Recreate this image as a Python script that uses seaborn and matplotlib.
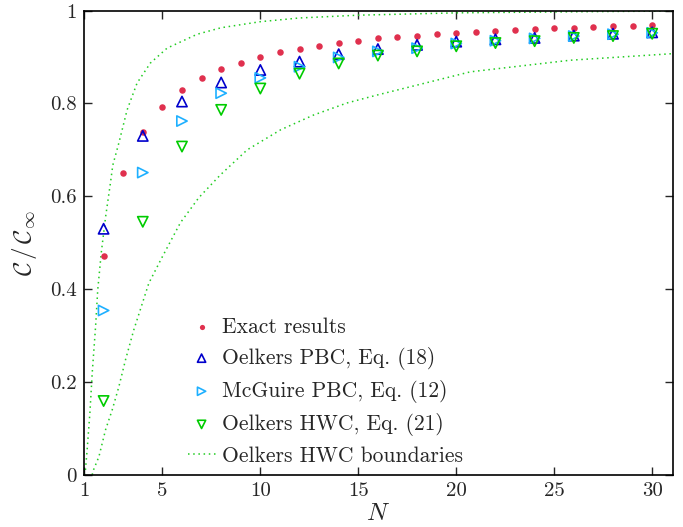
import numpy as np
import pandas as pd
import matplotlib
matplotlib.use("Agg")
import matplotlib.pyplot as plt
import seaborn as sns

# ---- data ----
N_exact = list(range(2, 31))
C_exact = [0.471, 0.650, 0.739, 0.793, 0.829, 0.855, 0.874, 0.888, 0.900, 0.910,
           0.918, 0.924, 0.930, 0.935, 0.940, 0.943, 0.946, 0.949, 0.952, 0.954,
           0.956, 0.959, 0.961, 0.962, 0.963, 0.965, 0.966, 0.967, 0.968]

N_even = list(range(2, 31, 2))
C_oelkers_pbc = [0.530, 0.730, 0.804, 0.845, 0.872, 0.890, 0.906, 0.917, 0.926,
                 0.933, 0.938, 0.941, 0.946, 0.950, 0.953]
C_mcguire_pbc = [0.354, 0.651, 0.762, 0.822, 0.855, 0.879, 0.899, 0.912, 0.919,
                 0.929, 0.935, 0.940, 0.945, 0.949, 0.952]
C_oelkers_hwc = [0.159, 0.545, 0.707, 0.786, 0.832, 0.864, 0.886, 0.903, 0.912,
                 0.923, 0.930, 0.934, 0.941, 0.945, 0.950]

N_upper = [1.0, 1.06, 1.16, 1.30, 1.42, 1.59, 1.70, 1.88, 2.10, 2.35, 2.47, 2.78,
           3.20, 3.71, 4.39, 5.24, 6.78, 8.0, 10.0, 12.0, 15.0, 20.0, 25.0, 31.0]
C_upper = [0.0, 0.004, 0.054, 0.133, 0.220, 0.319, 0.398, 0.478, 0.555, 0.629, 0.667,
           0.715, 0.786, 0.844, 0.887, 0.919, 0.949, 0.963, 0.976, 0.984, 0.990,
           0.995, 0.997, 0.999]

N_lower = [1.42, 1.45, 1.76, 2.10, 2.44, 2.78, 3.12, 3.54, 4.31, 4.99, 5.92, 6.86,
           7.96, 9.33, 11.03, 12.72, 14.43, 15.96, 20.72, 25.82, 31.0]
C_lower = [0.0, 0.007, 0.039, 0.097, 0.140, 0.190, 0.248, 0.312, 0.413, 0.469, 0.543,
           0.597, 0.646, 0.700, 0.743, 0.775, 0.801, 0.818, 0.868, 0.893, 0.907]

x_ticks = [1, 5, 10, 15, 20, 25, 30]
y_ticks = [0, 0.2, 0.4, 0.6, 0.8, 1]
y_ticklabels = ["0", "0.2", "0.4", "0.6", "0.8", "1"]

labels = ["Exact results", "Oelkers PBC, Eq. (18)", "McGuire PBC, Eq. (12)",
          "Oelkers HWC, Eq. (21)", "Oelkers HWC boundaries"]

# ---- style ----
sns.set_style("ticks")
plt.rcParams["font.family"] = ["cmr10", "DejaVu Serif"]
plt.rcParams["mathtext.fontset"] = "cm"
plt.rcParams["axes.formatter.use_mathtext"] = True
plt.rcParams["axes.unicode_minus"] = False

fig = plt.figure(figsize=(6.83, 5.27), dpi=100)
ax = fig.add_axes([0.123, 0.099, 0.862, 0.881])

c_red = "#e0304e"
c_blue = "#0000cc"
c_cyan = "#1eb0ff"
c_green = "#00cc00"
c_line = "#22cc22"

df_up = pd.DataFrame({"N": N_upper, "C": C_upper})
df_lo = pd.DataFrame({"N": N_lower, "C": C_lower})
sns.lineplot(data=df_up, x="N", y="C", ax=ax, color=c_line, linestyle=(0, (1, 2.4)),
             linewidth=1.1, label=labels[4], sort=False, estimator=None)
sns.lineplot(data=df_lo, x="N", y="C", ax=ax, color=c_line, linestyle=(0, (1, 2.4)),
             linewidth=1.1, sort=False, estimator=None)

sns.scatterplot(x=N_exact, y=C_exact, ax=ax, marker="o", s=22, color=c_red,
                edgecolor=c_red, linewidth=0, label=labels[0], zorder=3)
sns.scatterplot(x=N_even, y=C_oelkers_pbc, ax=ax, marker="^", s=55, facecolor="none",
                edgecolor=c_blue, linewidth=1.2, label=labels[1], zorder=3)
sns.scatterplot(x=N_even, y=C_mcguire_pbc, ax=ax, marker=">", s=55, facecolor="none",
                edgecolor=c_cyan, linewidth=1.2, label=labels[2], zorder=3)
sns.scatterplot(x=N_even, y=C_oelkers_hwc, ax=ax, marker="v", s=55, facecolor="none",
                edgecolor=c_green, linewidth=1.2, label=labels[3], zorder=3)

ax.set_xlim(1, 31.05)
ax.set_ylim(0, 1)
ax.set_xticks(x_ticks)
ax.set_xticklabels([str(t) for t in x_ticks])
ax.set_yticks(y_ticks)
ax.set_yticklabels(y_ticklabels)
ax.tick_params(direction="in", length=6, width=1, top=True, right=True,
               labelsize=15, pad=5, labeltop=False, labelright=False)
for s in ax.spines.values():
    s.set_linewidth(1.2)
    s.set_color("black")

ax.set_xlabel(r"$N$", fontsize=18, labelpad=2)
ax.set_ylabel(r"$\mathcal{C}\,/\,\mathcal{C}_\infty$", fontsize=18, labelpad=8)

handles, labs = ax.get_legend_handles_labels()
order = [labs.index(l) for l in labels]
leg = ax.legend([handles[i] for i in order], [labs[i] for i in order],
                loc="lower left", bbox_to_anchor=(0.143, -0.022), frameon=False,
                fontsize=15.5, handlelength=1.3, handletextpad=0.3,
                labelspacing=0.47, markerscale=0.8)

fig.savefig("out.png", dpi=100)
